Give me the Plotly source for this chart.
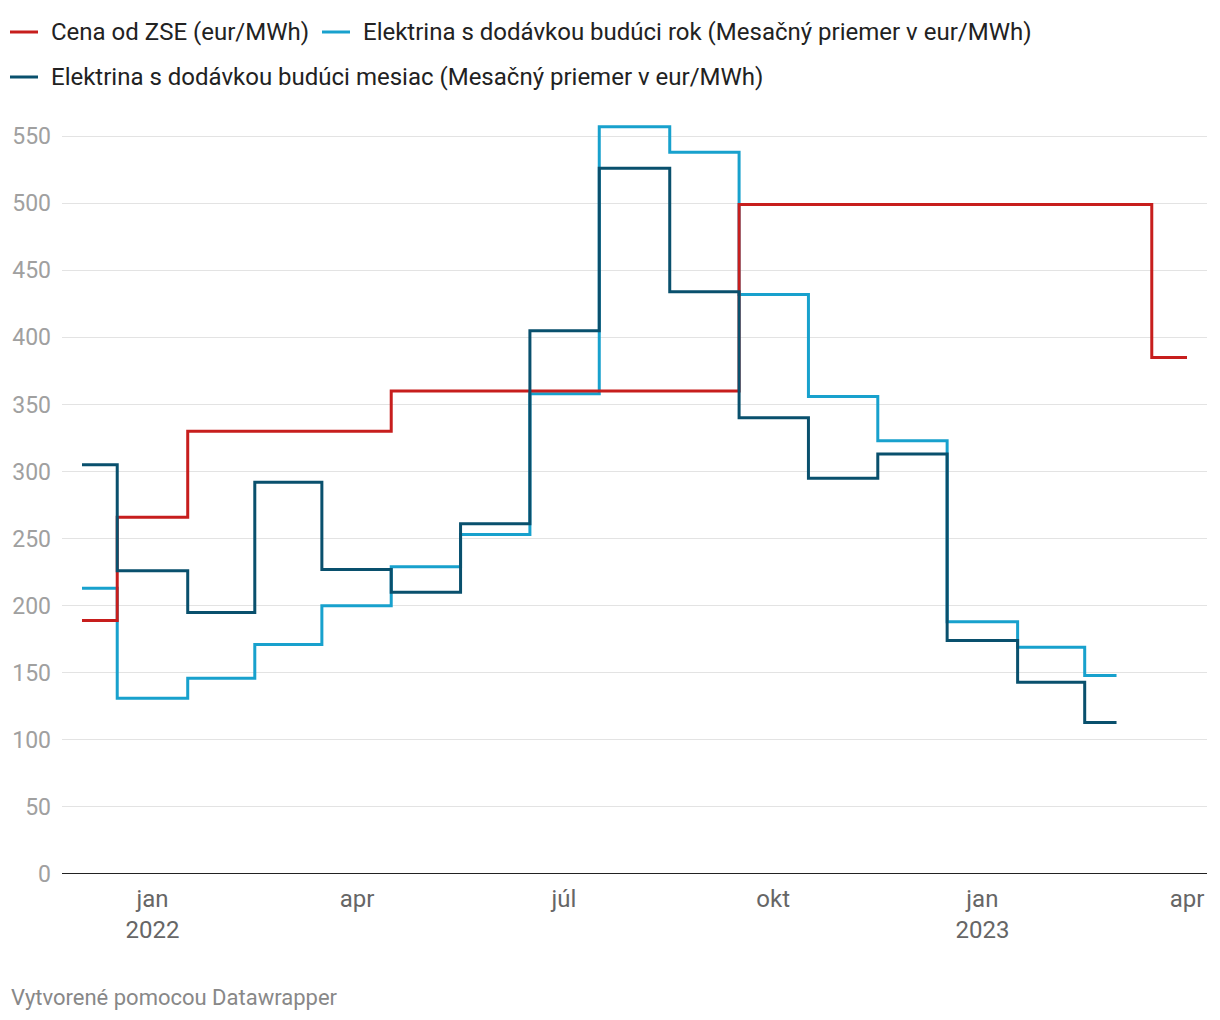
import plotly.graph_objects as go

months = ["2021-12-01", "2022-01-01", "2022-02-01", "2022-03-01", "2022-04-01",
          "2022-05-01", "2022-06-01", "2022-07-01", "2022-08-01", "2022-09-01",
          "2022-10-01", "2022-11-01", "2022-12-01", "2023-01-01", "2023-02-01",
          "2023-03-01", "2023-04-01"]

cena_zse = [189, 266, 330, 330, 330, 360, 360, 360, 360, 360,
            499, 499, 499, 499, 499, 499, 385]
buduci_rok = [213, 131, 146, 171, 200, 229, 253, 358, 557, 538,
              432, 356, 323, 188, 169, 148]
buduci_mesiac = [305, 226, 195, 292, 227, 210, 261, 405, 526, 434,
                 340, 295, 313, 174, 143, 113]

names = ["Cena od ZSE (eur/MWh)",
         "Elektrina s dodávkou budúci rok (Mesačný priemer v eur/MWh)",
         "Elektrina s dodávkou budúci mesiac (Mesačný priemer v eur/MWh)"]
colors = ["#c71e1d", "#18a1cd", "#09506d"]

tick_dates = ["2022-01-01", "2022-04-01", "2022-07-01", "2022-10-01", "2023-01-01", "2023-04-01"]
tick_text = ["jan<br>2022", "apr", "júl", "okt", "jan<br>2023", "apr"]
y_ticks = list(range(0, 551, 50))

FONT = "Roboto"
OFF = 8  # page body margin
W, H = 1212, 1012
L, R, T, B = 62 - OFF, 13, 116 - OFF, 146
PW, PH = W - L - R, H - T - B


def px(x):
    # screenshot pixel x -> paper coordinate
    return (x - OFF - L) / PW


def py(y):
    # screenshot pixel y -> paper coordinate
    return (H - B - (y - OFF)) / PH


fig = go.Figure()
fig.add_trace(go.Scatter(x=months[:len(buduci_rok)], y=buduci_rok, mode="lines",
                         line=dict(color=colors[1], width=3, shape="hvh"),
                         name=names[1], showlegend=False))
fig.add_trace(go.Scatter(x=months, y=cena_zse, mode="lines",
                         line=dict(color=colors[0], width=3, shape="hvh"),
                         name=names[0], showlegend=False))
fig.add_trace(go.Scatter(x=months[:len(buduci_mesiac)], y=buduci_mesiac, mode="lines",
                         line=dict(color=colors[2], width=3, shape="hvh"),
                         name=names[2], showlegend=False))

fig.update_layout(
    width=W, height=H,
    margin=dict(l=L, r=R, t=T, b=B, autoexpand=False),
    paper_bgcolor="white", plot_bgcolor="white",
    font=dict(family=FONT, size=22, color="#222"),
    showlegend=False,
    xaxis=dict(type="date", range=["2021-11-22 05:00", "2023-04-09 19:00"],
               tickvals=tick_dates, ticktext=tick_text, showgrid=False,
               showline=False, zeroline=False, ticks="",
               ticklabelstandoff=8,
               tickfont=dict(size=24, color="#666")),
    yaxis=dict(range=[0, 565], tickvals=y_ticks, showgrid=True, gridcolor="#e3e3e3",
               gridwidth=1, zeroline=False, showline=False, ticks="",
               ticklabelstandoff=10,
               tickfont=dict(size=23, color="#a0a0a0")),
)
# baseline at zero
fig.add_shape(type="line", xref="paper", yref="y", x0=0, x1=1, y0=0, y1=0,
              line=dict(color="#222", width=2), layer="above")

# manual legend
legend_items = [(10, 32), (322, 32), (10, 77)]
for (lx, ly), name, col in zip(legend_items, names, colors):
    fig.add_shape(type="line", xref="paper", yref="paper",
                  x0=px(lx), x1=px(lx + 28), y0=py(ly), y1=py(ly),
                  line=dict(color=col, width=3))
    fig.add_annotation(text=name, xref="paper", yref="paper", x=px(lx + 39), y=py(ly),
                       xanchor="left", yanchor="middle", showarrow=False,
                       font=dict(size=24, color="#222"))

fig.add_annotation(text="Vytvorené pomocou Datawrapper", xref="paper", yref="paper",
                   x=px(9), y=py(997), xanchor="left", yanchor="middle", showarrow=False,
                   font=dict(size=22, color="#888"))
fig.write_html("out.html")
